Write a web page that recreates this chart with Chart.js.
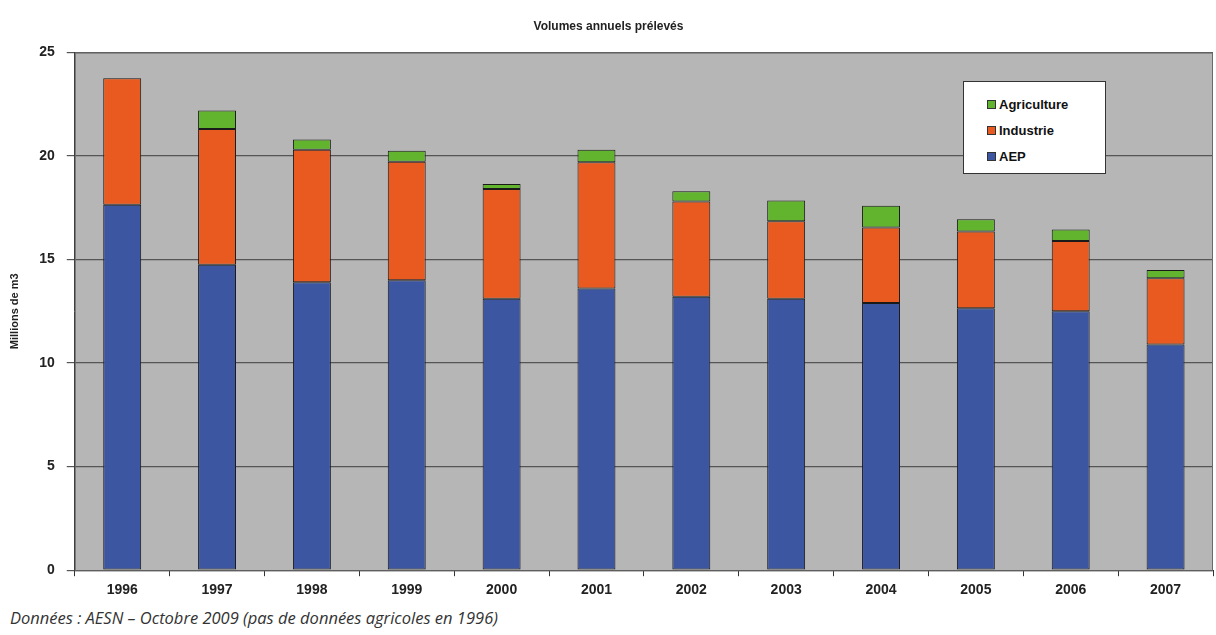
<!DOCTYPE html>
<html>
<head>
<meta charset="utf-8">
<script src="https://cdn.jsdelivr.net/npm/chart.js@4/dist/chart.umd.min.js"></script>
<style>
  body { margin: 0; background: #fff; width: 1216px; height: 635px; overflow: hidden; position: relative; }
  #wrap { position: absolute; left: 0; top: 0; width: 1216px; height: 605px; }
  #legend { position: absolute; left: 963px; top: 81px; width: 143px; height: 93px; background: #fff;
    border: 1.5px solid #333; box-sizing: border-box; padding: 9px 0 0 23px; font: bold 13px "Liberation Sans", Arial, sans-serif; color: #111; }
  #legend div { display: flex; align-items: center; height: 26px; }
  #legend span.sw { width: 9px; height: 9px; margin-right: 3px; border: 1px solid #333; box-sizing: border-box; }
  #note { position: absolute; left: 10px; top: 606px; font: italic 16.5px "Open Sans", sans-serif; color: #333; }
</style>
</head>
<body>
<div id="wrap"><canvas id="c"></canvas></div>
<div id="legend"></div>
<div id="note">Données : AESN – Octobre 2009 (pas de données agricoles en 1996)</div>
<script>
const years = ['1996','1997','1998','1999','2000','2001','2002','2003','2004','2005','2006','2007'];
const aep         = [17.65, 14.75, 13.9, 14.0, 13.1, 13.6, 13.2, 13.1, 12.9, 12.65, 12.5, 10.9];
const industrie   = [6.1, 6.55, 6.4, 5.72, 5.3, 6.1, 4.6, 3.75, 3.65, 3.7, 3.4, 3.2];
const agriculture = [0, 0.9, 0.5, 0.53, 0.25, 0.6, 0.5, 1.0, 1.05, 0.6, 0.55, 0.4];
const yTicks = [0, 5, 10, 15, 20, 25];

const plotBg = {
  id: 'plotBg',
  beforeDraw(chart) {
    const { ctx, chartArea: a } = chart;
    ctx.save();
    ctx.fillStyle = '#b6b6b6';
    ctx.fillRect(a.left, a.top, a.right - a.left, a.bottom - a.top);
    ctx.restore();
  },
  afterDraw(chart) {
    const { ctx, chartArea: a } = chart;
    ctx.save();
    ctx.strokeStyle = '#6a6a6a';
    ctx.lineWidth = 1;
    ctx.strokeRect(a.left + 0.5, a.top + 0.5, a.right - a.left - 1, a.bottom - a.top);
    ctx.restore();
  }
};

const font = { family: '"Liberation Sans", Arial, sans-serif', weight: 'bold' };

const chart = new Chart(document.getElementById('c'), {
  type: 'bar',
  data: {
    labels: years,
    datasets: [
      { label: 'AEP', data: aep, backgroundColor: '#3c56a2' },
      { label: 'Industrie', data: industrie, backgroundColor: '#e95a21' },
      { label: 'Agriculture', data: agriculture, backgroundColor: '#62b42f' }
    ].map(d => ({ ...d, borderColor: '#1a1a1a', borderWidth: 1, borderSkipped: false, barPercentage: 0.4, categoryPercentage: 1 }))
  },
  options: {
    responsive: true, maintainAspectRatio: false, animation: false,
    layout: { padding: { top: 0, right: 3, left: 4, bottom: 0 } },
    plugins: {
      legend: { display: false },
      tooltip: { enabled: false },
      title: { display: true, text: 'Volumes annuels prélevés', color: '#222',
        font: { ...font, size: 12 }, padding: { top: 19, bottom: 19 } }
    },
    scales: {
      x: { stacked: true,
        grid: { display: true, drawOnChartArea: false, offset: true, tickLength: 6, color: '#333' },
        border: { display: true, color: '#333' },
        ticks: { color: '#222', font: { ...font, size: 14 }, padding: 6 } },
      y: { stacked: true, min: 0, max: 25,
        afterBuildTicks: s => { s.ticks = yTicks.map(v => ({ value: v })); },
        grid: { color: '#555', lineWidth: 1.2, tickLength: 8 },
        border: { display: true, color: '#333' },
        ticks: { color: '#222', font: { ...font, size: 14 }, padding: 12 },
        title: { display: true, text: 'Millions de m3', color: '#222', font: { ...font, size: 11 }, padding: { bottom: 6 } } }
    }
  },
  plugins: [plotBg]
});

// legend box, listed top-down like the original
const legendEl = document.getElementById('legend');
[...chart.data.datasets].reverse().forEach(d => {
  legendEl.innerHTML += `<div><span class="sw" style="background:${d.backgroundColor}"></span>${d.label}</div>`;
});
</script>
</body>
</html>
